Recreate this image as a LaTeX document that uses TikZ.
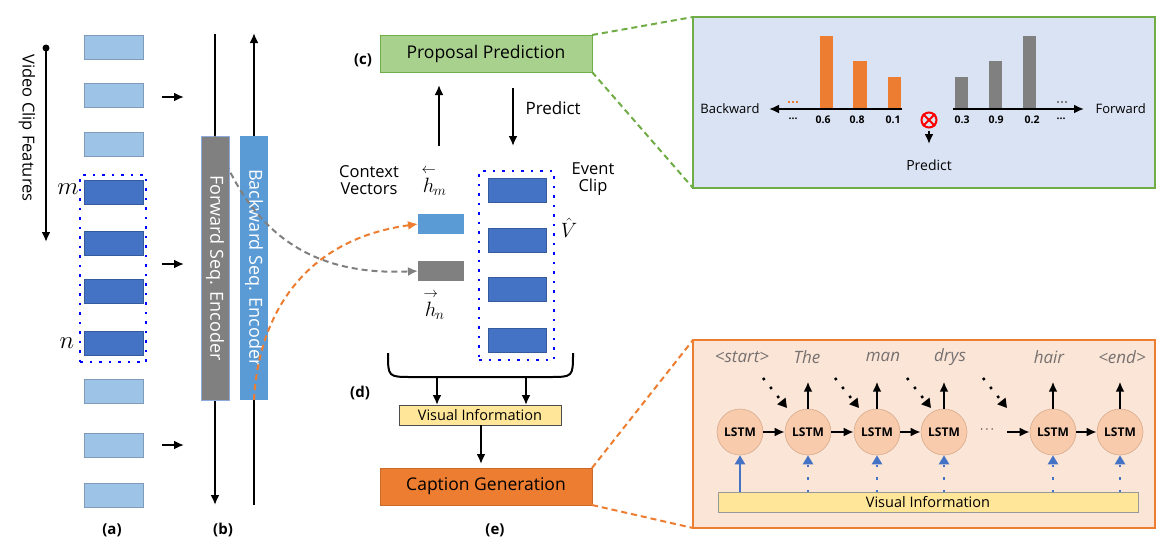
\documentclass[tikz,border=0pt]{standalone}
\usepackage{amsmath}
\usepackage{fontspec}
\setmainfont{Open Sans}
\usetikzlibrary{arrows.meta}
\definecolor{clipL}{RGB}{157,195,230}
\definecolor{clipD}{RGB}{68,114,196}
\definecolor{encG}{RGB}{128,128,128}
\definecolor{encB}{RGB}{91,155,213}
\definecolor{greenF}{RGB}{169,209,142}
\definecolor{greenB}{RGB}{112,173,71}
\definecolor{orangeF}{RGB}{237,125,49}
\definecolor{yellowF}{RGB}{255,230,153}
\definecolor{panelB}{RGB}{218,227,243}
\definecolor{panelO}{RGB}{251,229,214}
\definecolor{circF}{RGB}{248,203,173}
\definecolor{circB}{RGB}{215,170,140}
\definecolor{wordG}{RGB}{118,113,113}
\newcommand{\fsz}[1]{\fontsize{#1}{#1}\selectfont}
\begin{document}
\begin{tikzpicture}[x=1pt,y=-1pt,
  box/.style={draw=none,inner sep=0,outer sep=0},
  clipl/.style={box,fill=clipL,draw=clipL!80!black,line width=0.4pt,minimum width=59,minimum height=24},
  clipd/.style={box,fill=clipD,draw=clipD!80!black,line width=0.4pt,minimum width=59,minimum height=24},
  dotbox/.style={box,draw=blue,line width=2.5pt,dash pattern=on 2.5pt off 7pt},
  enc/.style={box,minimum width=28,minimum height=264,text=white},
  arr/.style={line width=2pt,-{Latex[length=10pt,width=9pt]}},
  plain/.style={line width=2pt},
  lbl/.style={font=\bfseries\fsz{15}},
  lstm/.style={circle,fill=circF,draw=circB,line width=0.6pt,minimum size=46,inner sep=0,font=\bfseries\fsz{12}},
  word/.style={font=\itshape\fsz{17},text=wordG},
  dashc/.style={line width=2pt,dash pattern=on 6pt off 4pt},
  bluedot/.style={draw=clipD,line width=2.5pt,dash pattern=on 2.5pt off 10pt,-{Triangle[length=9pt,width=10pt]}},
  blackdot/.style={line width=2.5pt,dash pattern=on 2.5pt off 9pt,-{Triangle[length=9pt,width=10pt]}},
  num/.style={font=\bfseries\fsz{10.5}},
]
\useasboundingbox[fill=white] (0,0) rectangle (1170,557);

% ---------- (a) clips
\node[clipl] (c1) at (113.5,47) {};
\node[clipl] (c2) at (113.5,95) {};
\node[clipl] (c3) at (113.5,144) {};
\node[clipd] (c4) at (113.5,192.5) {};
\node[clipd] (c5) at (113.5,243) {};
\node[clipd] (c6) at (113.5,291) {};
\node[clipd] (c7) at (113.5,343) {};
\node[clipl] (c8) at (113.5,391.5) {};
\node[clipl] (c9) at (113.5,445.5) {};
\node[clipl] (c10) at (113.5,495) {};
\node[dotbox,minimum width=66,minimum height=187] (sel) at (113,268.5) {};
\node[font=\fsz{25},inner sep=0] (lm) at (68,189) {$m$};
\node[font=\fsz{25},inner sep=0] (ln) at (67,343) {$n$};

% Video clip features arrow
\node[circle,fill=black,inner sep=0,minimum size=7] (vdot) at (46,48) {};
\coordinate (vend) at (46,242);
\draw[arr] (vdot.center) -- (vend);
\node[rotate=-90,font=\fsz{16.5}] (vcf) at (27,128) {Video Clip Features};

% arrows into encoders
\coordinate (a1s) at (162,97);  \coordinate (a1e) at (184,97);
\coordinate (a2s) at (162,264); \coordinate (a2e) at (184,264);
\coordinate (a3s) at (162,445); \coordinate (a3e) at (184,445);
\draw[arr] (a1s) -- (a1e);
\draw[arr] (a2s) -- (a2e);
\draw[arr] (a3s) -- (a3e);

% ---------- (b) encoders
\coordinate (ftop) at (215,34);
\coordinate (fbot) at (215,505);
\coordinate (btop) at (254,33);
\coordinate (bbot) at (254,505);
\draw[plain] (ftop) -- (215,136);
\draw[arr] (215,400) -- (fbot);
\draw[plain] (bbot) -- (254,400);
\draw[arr] (254,136) -- (btop);
\node[enc,fill=encG,draw=clipD!60,line width=0.4pt] (fenc) at (215,268) {};
\node[enc,fill=encB] (benc) at (254,268) {};
\node[rotate=-90,text=white,font=\fsz{18}] (ftxt) at (215,268) {Forward Seq. Encoder};
\node[rotate=-90,text=white,font=\fsz{18}] (btxt) at (254,268) {Backward Seq. Encoder};

\node[lbl] (la) at (112,530) {(a)};
\node[lbl] (lb) at (223,530) {(b)};

% ---------- middle column
\node[box,fill=greenF,draw=greenB,line width=0.6pt,minimum width=212,minimum height=37,font=\fsz{17.5}] (pp) at (486,53.5) {Proposal Prediction};
\node[lbl] (lc) at (363,60) {(c)};

\coordinate (u1) at (439,146); \coordinate (u2) at (439,85);
\draw[arr] (u1) -- (u2);
\coordinate (p1) at (513,88); \coordinate (p2) at (513,146);
\draw[arr] (p1) -- (p2);
\node[font=\fsz{17},anchor=west] (pred) at (522,108) {Predict};

\node[font=\fsz{16.5},align=center] (ctx) at (369,180) {Context\\[0pt]Vectors};
\node[font=\fsz{16.5},align=center] (evc) at (593,179) {Event\\[0pt]Clip};
\node[font=\fsz{22}] (hm) at (434,181) {$\overset{\leftarrow}{h}_{\!m}$};
\node[font=\fsz{22}] (hn) at (434,305) {$\overset{\rightarrow}{h}_{\!n}$};
\node[font=\fsz{22},inner sep=0] (vh) at (569,228) {$\hat{V}$};

\node[box,fill=encB,minimum width=46,minimum height=20] (hb) at (441,224) {};
\node[box,fill=encG,minimum width=46,minimum height=20] (hf) at (441,271) {};

\node[clipd,minimum width=58] (e1) at (517,190) {};
\node[clipd,minimum width=58] (e2) at (517,240) {};
\node[clipd,minimum width=58] (e3) at (517,289.5) {};
\node[clipd,minimum width=58] (e4) at (517,340.5) {};
\node[dotbox,minimum width=75,minimum height=189] (ev) at (516.5,265.5) {};

% brace
\draw[plain] (388,353) .. controls (388,377) .. (412,377) -- (549,377) .. controls (573,377) .. (573,353);
\node[box,fill=yellowF,draw=black!70,line width=0.8pt,minimum width=162,minimum height=20,font=\fsz{14.5}] (vi) at (480,415) {Visual Information};
\coordinate (b1) at (437,377); \coordinate (b2) at (526,377);
\draw[arr] (b1) -- (b1 |- vi.north);
\draw[arr] (b2) -- (b2 |- vi.north);
\node[lbl] (ld) at (360,393) {(d)};

\node[box,fill=orangeF,draw=orangeF!85!black,line width=0.6pt,minimum width=212,minimum height=37,font=\fsz{17.5}] (cg) at (486,486.5) {Caption Generation};
\coordinate (vi2) at (481,464);
\draw[arr] (vi.south -| vi2) -- (vi2);
\node[lbl] (le) at (495,530) {(e)};

% dashed connectors
\draw[dashc,draw=encG,-{Latex[length=10pt,width=9pt]}] (fenc.north) .. controls (255,250) and (330,275) .. (hf.west);
\draw[dashc,draw=orangeF,-{Latex[length=10pt,width=9pt]}] (benc.south) .. controls (258,320) and (300,240) .. (hb.west);

% ---------- top-right panel
\node[box,fill=panelB,draw=greenB,line width=2pt,minimum width=462,minimum height=171] (tp) at (924,102.5) {};
\draw[dashc,draw=greenB] (pp.north east) -- (tp.north west);
\draw[dashc,draw=greenB] (pp.south east) -- (tp.south west);

\fill[orangeF] (820,36) rectangle (833,109);
\fill[orangeF] (853,61) rectangle (867,109);
\fill[orangeF] (888,77) rectangle (901,109);
\fill[encG] (955,77) rectangle (968,109);
\fill[encG] (989,61) rectangle (1002,109);
\fill[encG] (1023,36) rectangle (1036,109);
\coordinate (ax1s) at (902,109); \coordinate (ax1e) at (769,109);
\coordinate (ax2s) at (953,109); \coordinate (ax2e) at (1084,109);
\draw[arr] (ax1s) -- (ax1e);
\draw[arr] (ax2s) -- (ax2e);
\node[font=\fsz{13},anchor=east] (bw) at (763,109) {Backward};
\node[font=\fsz{13},anchor=west] (fw) at (1092,109) {Forward};
\foreach \dx in {-4,0,4} {\fill[orangeF] (793+\dx-1.3,100.7) rectangle (793+\dx+1.3,103.3);}
\foreach \dx in {-4,0,4} {\fill[encG] (1062+\dx-1.3,100.7) rectangle (1062+\dx+1.3,103.3);}
\node[num] (n0) at (793,119) {...};
\node[num] (n1) at (823,120) {0.6};
\node[num] (n2) at (857,120) {0.8};
\node[num] (n3) at (893,120) {0.1};
\node[num] (n4) at (962,120) {0.3};
\node[num] (n5) at (996,120) {0.9};
\node[num] (n6) at (1032,120) {0.2};
\node[num] (n7) at (1061,119) {...};
\node[circle,draw=red,line width=2pt,minimum size=15,inner sep=0] (ot) at (929,120) {};
\draw[red,line width=2pt] (ot.45) -- (ot.225) (ot.135) -- (ot.315);
\node[font=\fsz{14}] (pr2) at (929,165) {Predict};
\coordinate (pa) at (929,144);
\draw[arr] (929,131) -- (pa);

% ---------- bottom-right panel
\node[box,fill=panelO,draw=orangeF,line width=2pt,minimum width=462,minimum height=188] (bp) at (924,434) {};
\draw[dashc,draw=orangeF] (cg.north east) -- (bp.north west);
\draw[dashc,draw=orangeF] (cg.south east) -- (bp.south west);

\node[lstm] (l1) at (740,432) {LSTM};
\node[lstm] (l2) at (808,432) {LSTM};
\node[lstm] (l3) at (877,432) {LSTM};
\node[lstm] (l4) at (944,432) {LSTM};
\node[lstm] (l5) at (1053,432) {LSTM};
\node[lstm] (l6) at (1120,432) {LSTM};
\node[font=\bfseries\fsz{13}] (ldots) at (988,430) {$\cdots$};
\draw[arr] (l1) -- (l2);
\draw[arr] (l2) -- (l3);
\draw[arr] (l3) -- (l4);
\coordinate (dd) at (1007,432);
\draw[arr] (dd) -- (l5);
\draw[arr] (l5) -- (l6);

\node[word] (w1) at (742,357) {<start>};
\node[word] (w2) at (807,357) {The};
\node[word] (w3) at (883,357) {man};
\node[word] (w4) at (950,357) {drys};
\node[word] (w5) at (1049,357) {hair};
\node[word] (w6) at (1122,357) {<end>};
\foreach \i in {2,3,4,5,6} {\draw[arr] (l\i.north) -- ++(0,-27);}

\coordinate (d1s) at (763,378); \coordinate (d1e) at (787,408);
\coordinate (d2s) at (835,378); \coordinate (d2e) at (859,408);
\coordinate (d3s) at (907,378); \coordinate (d3e) at (931,408);
\coordinate (d4s) at (983,378); \coordinate (d4e) at (1007,408);
\draw[blackdot] (d1s) -- (d1e);
\draw[blackdot] (d2s) -- (d2e);
\draw[blackdot] (d3s) -- (d3e);
\draw[blackdot] (d4s) -- (d4e);

\node[box,fill=yellowF,draw=black!40,line width=0.6pt,minimum width=420,minimum height=20,font=\fsz{14.5}] (vib) at (928,502) {Visual Information};
\draw[draw=clipD,line width=2pt,-{Triangle[length=9pt,width=10pt]}] (l1 |- vib.north) -- (l1.south);
\foreach \i in {2,3,4,5,6} {\draw[bluedot] (l\i |- vib.north) -- (l\i.south);}
\end{tikzpicture}
\end{document}
